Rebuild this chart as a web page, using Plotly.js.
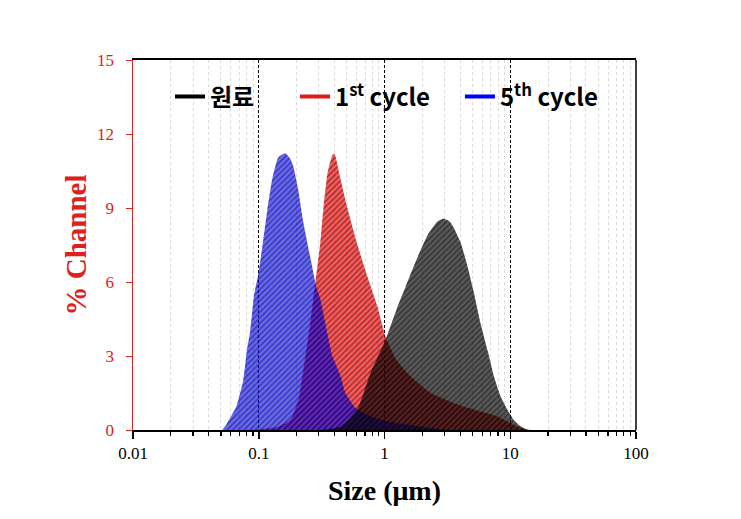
<!DOCTYPE html>
<html>
<head>
<meta charset="utf-8">
<script src="https://cdn.plot.ly/plotly-3.0.1.min.js"></script>
<style>html,body{margin:0;padding:0;background:#fff;}#chart{width:741px;height:519px;}</style>
</head>
<body>
<div id="chart"></div>
<script>
// ---- data (size in µm, % channel) ----
const rawSize = [0.01, 0.309, 0.446, 0.610, 0.773, 1.018, 1.27, 1.47, 1.83, 2.20, 2.64, 2.95, 3.30, 3.55, 4.03, 4.59, 5.12, 5.82, 6.62, 7.39, 8.40, 9.55, 10.7, 12.1, 13.8, 100];
const rawVal  = [0, 0, 0.13, 0.85, 2.3, 3.65, 5.0, 5.8, 7.0, 7.9, 8.45, 8.56, 8.45, 8.2, 7.6, 6.6, 5.6, 4.3, 3.2, 2.2, 1.35, 0.8, 0.4, 0.15, 0, 0];

const c1Size = [0.01, 0.0855, 0.1127, 0.140, 0.178, 0.2066, 0.235, 0.257, 0.282, 0.309, 0.327, 0.352, 0.385, 0.400, 0.446, 0.507, 0.610, 0.733, 0.879, 1.018, 1.224, 1.525, 2.33, 4.26, 7.94, 11.5, 14.6, 100];
const c1Val  = [0, 0, 0.05, 0.12, 0.41, 1.22, 2.98, 4.34, 6.0, 7.6, 9.0, 10.4, 11.15, 11.2, 10.2, 9.0, 7.5, 6.2, 5.0, 3.8, 2.9, 2.3, 1.5, 0.95, 0.55, 0.13, 0, 0];

const c5Size = [0.01, 0.0512, 0.0571, 0.0662, 0.0752, 0.0809, 0.0855, 0.0920, 0.0991, 0.1086, 0.1169, 0.1283, 0.1429, 0.1625, 0.178, 0.188, 0.2066, 0.2265, 0.257, 0.287, 0.309, 0.339, 0.385, 0.446, 0.489, 0.587, 0.817, 1.27, 2.05, 3.36, 100];
const c5Val  = [0, 0, 0.35, 0.94, 2.0, 3.3, 4.0, 5.5, 6.3, 7.7, 8.9, 10.2, 11.05, 11.22, 11.0, 10.7, 9.7, 8.4, 7.0, 5.8, 5.3, 4.3, 3.0, 2.2, 1.5, 0.9, 0.5, 0.28, 0.12, 0, 0];

const seriesNames = ['원료', '1<sup>st</sup> cycle', '5<sup>th</sup> cycle'];
const xTickVals = [0.01, 0.1, 1, 10, 100];
const xTickText = ['0.01', '0.1', '1', '10', '100'];
const yTickVals = [0, 3, 6, 9, 12, 15];

// minor tick positions 2..9 per decade
const minorVals = [];
for (let k = -2; k < 2; k++) for (let m = 2; m <= 9; m++) minorVals.push(m * Math.pow(10, k));

const RED = '#dd2020';
const serif = 'Liberation Serif, Times New Roman, serif';

function area(x, y, bg) {
  return {
    x: x, y: y, type: 'scatter', mode: 'lines', fill: 'tozeroy',
    line: {width: 0, shape: 'spline', smoothing: 0.5, color: bg},
    fillcolor: bg,
    fillpattern: {shape: '/', bgcolor: bg, fgcolor: '#000000', fgopacity: 0.5, size: 4, solidity: 0.3},
    showlegend: false, hoverinfo: 'skip'
  };
}

function legendLine(name, color, legendId) {
  return {x: [null], y: [null], type: 'scatter', mode: 'lines', name: name,
          line: {color: color, width: 4}, legend: legendId, showlegend: true};
}

const traces = [
  area(c1Size, c1Val, 'rgba(255,0,0,0.65)'),
  area(c5Size, c5Val, 'rgba(0,0,255,0.6)'),
  area(rawSize, rawVal, 'rgba(0,0,0,0.65)'),
  legendLine(seriesNames[0], '#000000', 'legend'),
  legendLine(seriesNames[1], '#e01b1b', 'legend2'),
  legendLine(seriesNames[2], '#0000ff', 'legend3')
];

const legendFont = {family: 'Noto Sans CJK KR, Noto Sans, sans-serif', size: 24, color: '#000', weight: 'bold'};
function legendBox(x) {
  return {orientation: 'h', x: x, xanchor: 'left', y: 0.9, yanchor: 'middle',
          font: legendFont, bgcolor: 'rgba(0,0,0,0)', borderwidth: 0};
}

const layout = {
  width: 741, height: 519,
  margin: {l: 133, r: 105, t: 60, b: 89},
  paper_bgcolor: '#ffffff', plot_bgcolor: '#ffffff',
  showlegend: true,
  legend: legendBox(0.0736),
  legend2: legendBox(0.322),
  legend3: legendBox(0.650),
  xaxis: {
    type: 'log', range: [-2, 2],
    tickmode: 'array', tickvals: xTickVals, ticktext: xTickText,
    ticks: 'outside', ticklen: 7, tickwidth: 1.5, tickcolor: '#000',
    tickfont: {family: serif, size: 17, color: '#000'},
    showline: true, linecolor: '#000', linewidth: 2, mirror: true,
    showgrid: true, gridcolor: '#000', gridwidth: 1, griddash: '3px,2px',
    zeroline: false,
    minor: {tickmode: 'array', tickvals: minorVals, ticks: 'outside', ticklen: 4, tickwidth: 1.2, tickcolor: '#000',
            showgrid: true, gridcolor: '#dadada', gridwidth: 1, griddash: 'dot'},
    title: {text: '<b>Size (μm)</b>', font: {family: serif, size: 28, color: '#000'}, standoff: 18}
  },
  yaxis: {
    range: [0, 15], tickmode: 'array', tickvals: yTickVals,
    ticks: 'outside', ticklen: 6, tickwidth: 1, tickcolor: RED,
    tickfont: {family: serif, size: 17, color: RED},
    ticklabelstandoff: 8,
    showline: true, linecolor: RED, linewidth: 1.5,
    showgrid: false, zeroline: false,
    title: {text: '<b>% Channel</b>', font: {family: serif, size: 29, color: RED}, standoff: 2}
  },
  shapes: [
    {type: 'line', xref: 'paper', yref: 'paper', x0: 1, x1: 1, y0: 0, y1: 1, line: {color: '#000', width: 1.5}}
  ]
};

Plotly.newPlot('chart', traces, layout, {displayModeBar: false, staticPlot: true});
</script>
</body>
</html>
